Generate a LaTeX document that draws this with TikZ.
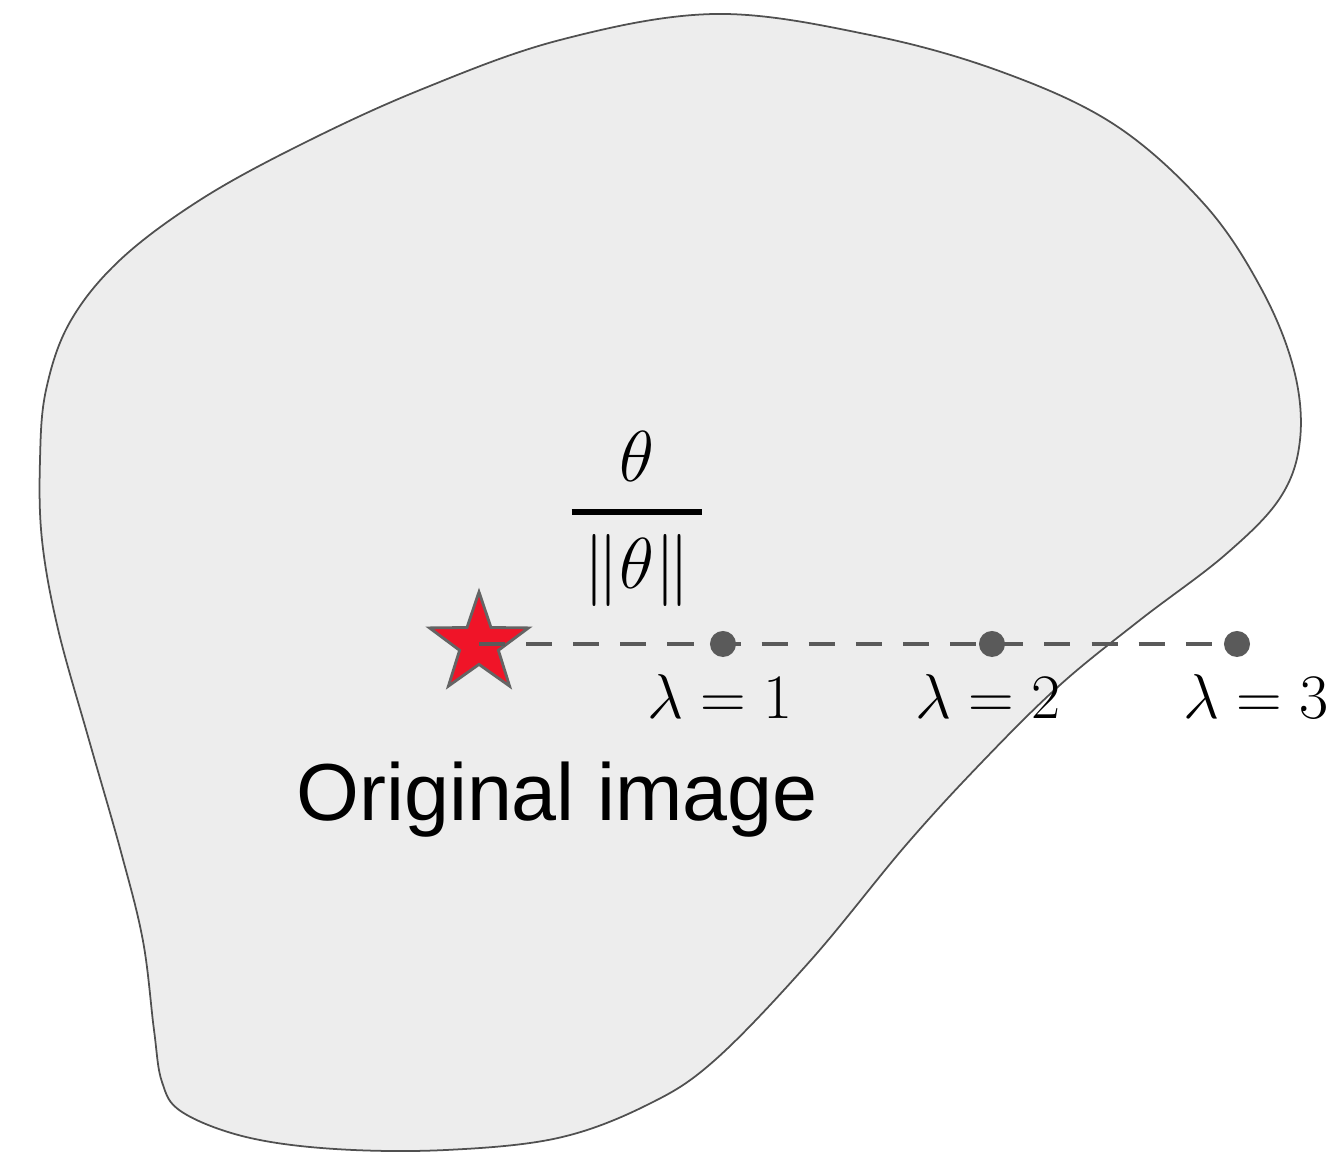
\RequirePackage{fix-cm}
\documentclass[tikz,border=0pt]{standalone}
\usepackage{amsmath}
\usepackage{fontspec}
\newfontfamily\arialfont{Liberation Sans}
\usetikzlibrary{shapes.geometric}
\definecolor{blobfill}{RGB}{237,237,237}
\definecolor{blobline}{RGB}{80,80,80}
\definecolor{dotgray}{RGB}{90,90,90}
\definecolor{starred}{RGB}{240,20,40}
\definecolor{stargray}{RGB}{100,100,100}
\tikzset{
  blob/.style={draw=blobline, fill=blobfill, line width=0.5pt},
  starnode/.style={star, star points=5, star point ratio=2.55, minimum size=1.04cm,
    inner sep=0pt, fill=starred, draw=stargray, line width=0.8pt},
  dotnode/.style={circle, fill=dotgray, minimum size=0.26cm, inner sep=0pt},
  dashline/.style={draw=dotgray, line width=1.4pt, dash pattern=on 7.4pt off 6pt},
  lamlabel/.style={font=\fontsize{18}{22}\selectfont, inner sep=0pt, anchor=base},
  fraclabel/.style={font=\fontsize{20.5}{25}\selectfont, inner sep=0pt, anchor=base},
  caption/.style={font=\arialfont\fontsize{23}{27}\selectfont, inner sep=0pt, anchor=base}
}
\begin{document}
\begin{tikzpicture}[x=0.01cm, y=-0.01cm]
\useasboundingbox (0,0) rectangle (1338,1155);
\draw[blob] plot[smooth cycle, tension=0.6] coordinates {
  (715,14) (870,35) (1002,72) (1115,125) (1205,205) (1262,290) (1294,370)
  (1300,440) (1280,498) (1225,555) (1140,620) (1060,685) (983,761)
  (906,845) (811,960) (715,1060) (647,1105) (558,1138) (446,1150) (335,1149)
  (246,1137) (182,1112) (162,1082) (154,1030) (143,941) (121,852) (89,740)
  (58,629) (42,540) (40,460) (46,390) (70,322) (120,260) (200,200) (300,145)
  (420,90) (560,40)};
\node[starnode] (orig) at (479,644) {};
\node[dotnode] (d1) at (723,644) {};
\node[dotnode] (d2) at (992,644) {};
\node[dotnode] (d3) at (1237,644) {};
\draw[dashline] (orig.center) -- (d3.center);
\node[lamlabel] (l1) at (720,719) {$\lambda = 1$};
\node[lamlabel] (l2) at (988,719) {$\lambda = 2$};
\node[lamlabel] (l3) at (1256,719) {$\lambda = 3$};
\node[fraclabel] (frac) at (637,530) {$\genfrac{}{}{1.8pt}{0}{\theta}{\,\|\theta\|\,}$};
\node[caption] (cap) at (557,821) {Original image};
\end{tikzpicture}
\end{document}
